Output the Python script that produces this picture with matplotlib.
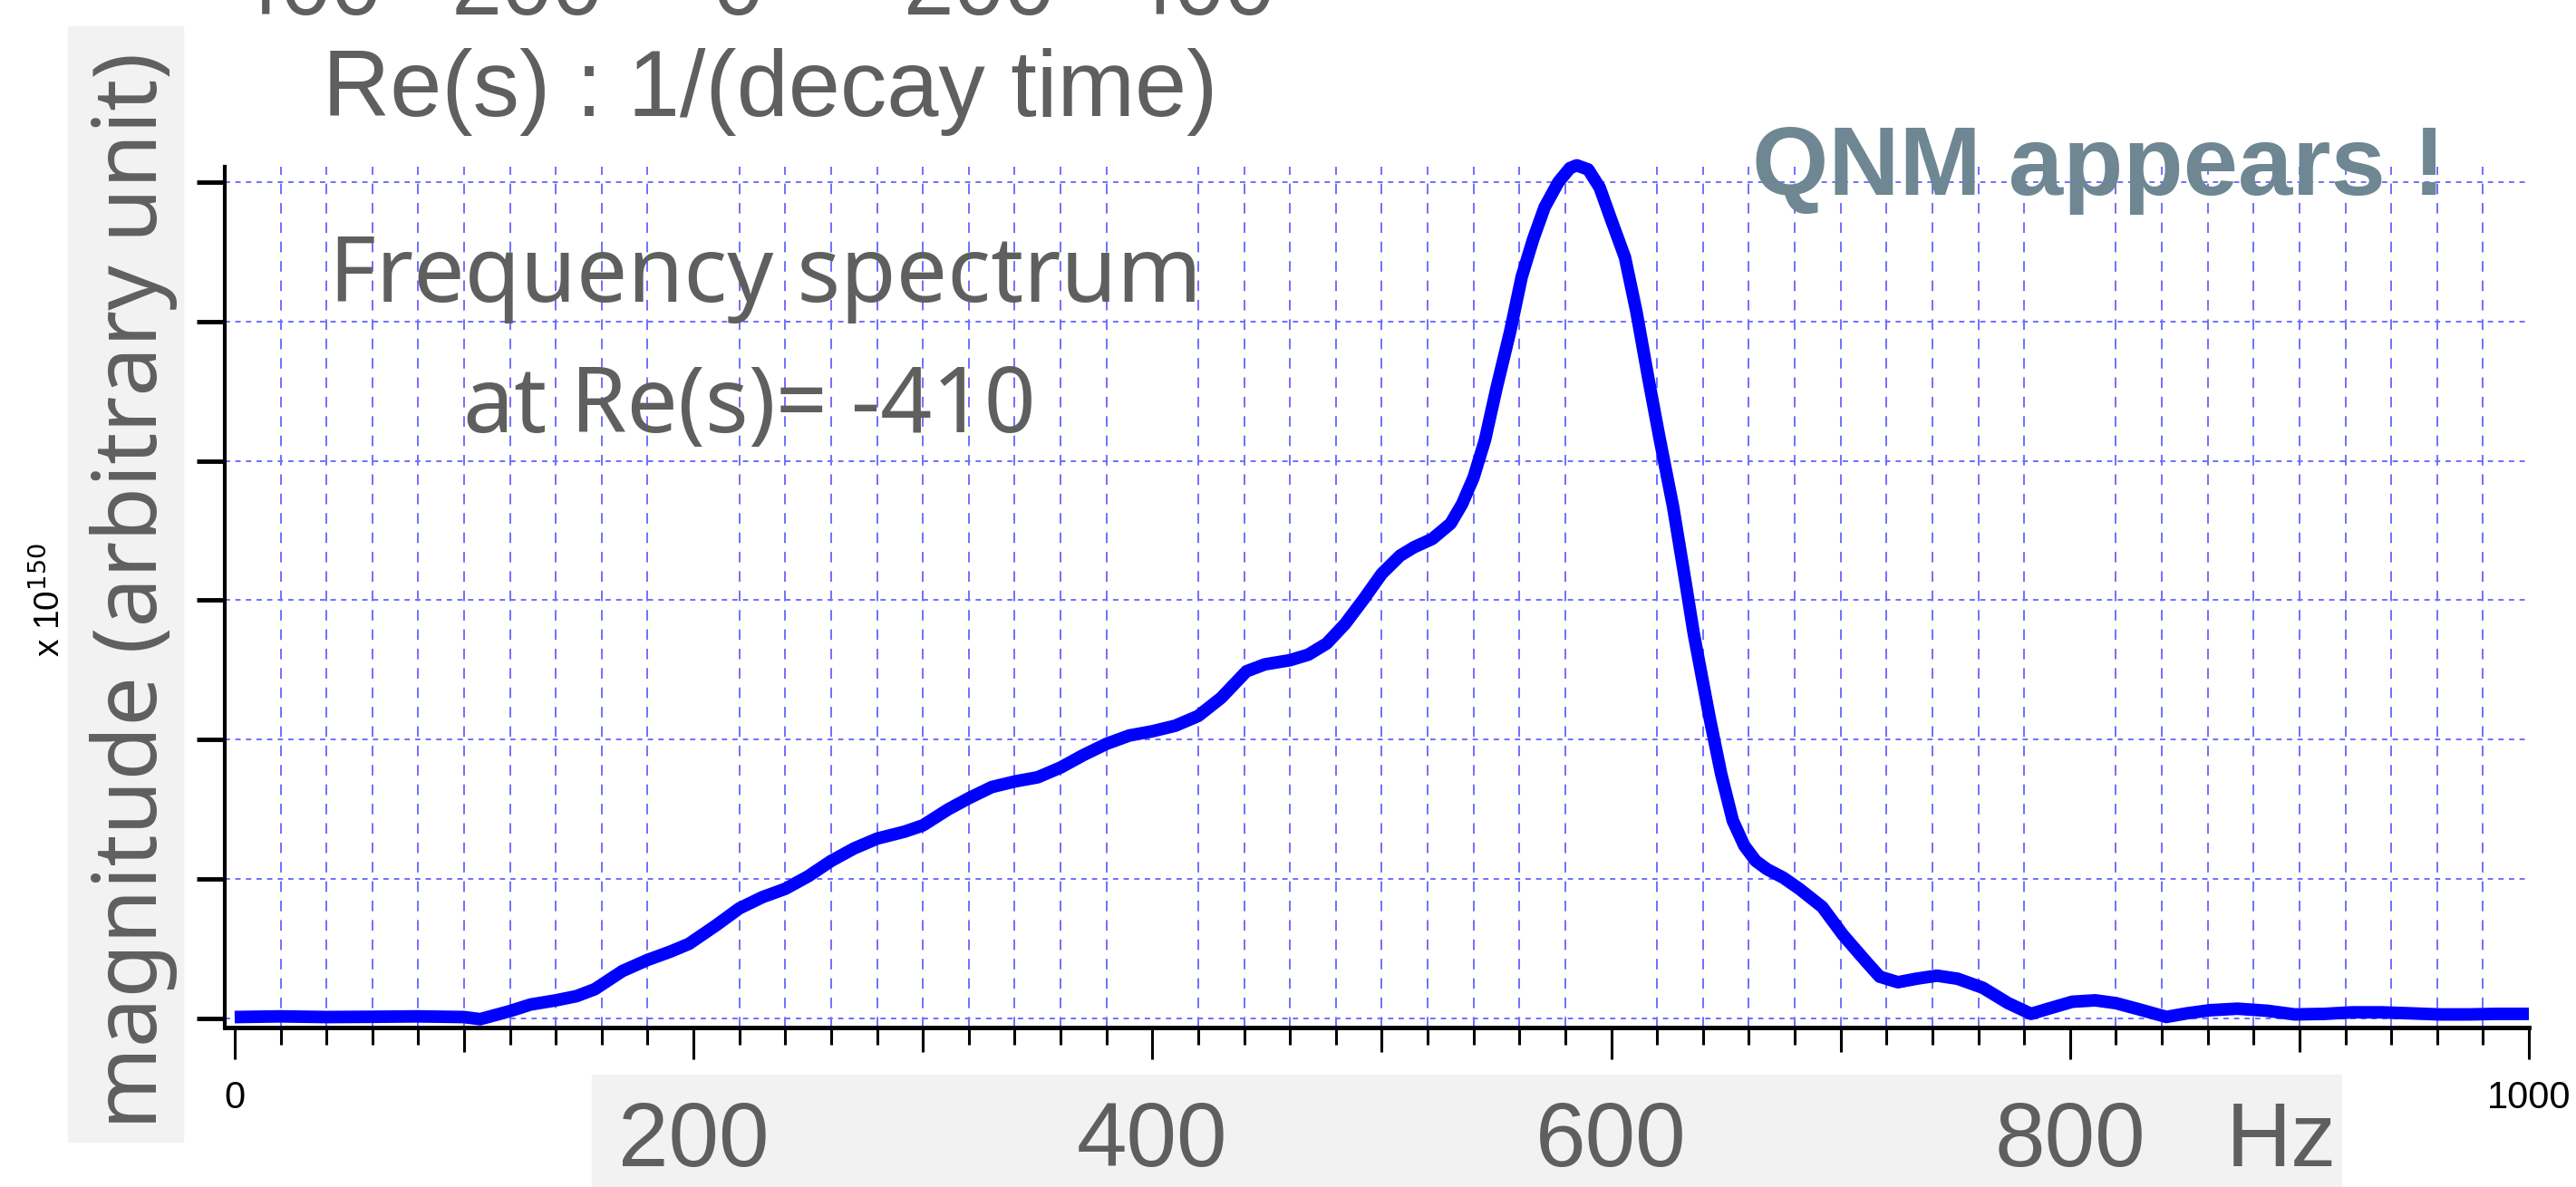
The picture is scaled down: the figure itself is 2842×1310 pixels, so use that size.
import matplotlib
matplotlib.use("Agg")
import matplotlib.pyplot as plt
import matplotlib.transforms as mtransforms
from matplotlib.patches import Rectangle

# frequency spectrum (y in units of one tick step, x 10^150 scale)
freq = [0, 20, 40, 60, 80, 100, 107, 120, 129, 140, 149, 157, 169, 180, 190, 198,
        210, 220, 230, 240, 250, 260, 270, 280, 292, 300, 311, 320, 330, 340, 350,
        360, 370, 380, 390, 400, 410, 420, 430, 441, 449, 460, 468, 476, 484, 492,
        500, 508, 514, 522, 530, 535, 540, 545, 550, 556, 561, 566, 571, 577, 582,
        585, 590, 595, 600, 606, 611, 616, 621, 627, 632, 636, 643, 648, 653, 658,
        663, 668, 675, 682, 692, 701, 711, 717, 725, 733, 742, 751, 762, 773, 783,
        792, 801, 811, 820, 830, 842, 851, 861, 873, 886, 898, 911, 923, 936, 948,
        961, 974, 986, 1000]
mag = [0.01, 0.015, 0.01, 0.012, 0.015, 0.01, -0.005, 0.053, 0.10, 0.13, 0.16, 0.21,
       0.34, 0.42, 0.48, 0.535, 0.67, 0.79, 0.87, 0.93, 1.02, 1.13, 1.22, 1.29, 1.34,
       1.385, 1.50, 1.58, 1.66, 1.70, 1.73, 1.80, 1.89, 1.97, 2.03, 2.06, 2.10, 2.17,
       2.30, 2.49, 2.54, 2.57, 2.61, 2.69, 2.83, 3.005, 3.19, 3.32, 3.38, 3.44, 3.55,
       3.69, 3.88, 4.15, 4.52, 4.93, 5.32, 5.59, 5.82, 6.0, 6.10, 6.12, 6.09, 5.96,
       5.73, 5.46, 5.07, 4.61, 4.17, 3.67, 3.17, 2.76, 2.15, 1.75, 1.42, 1.24, 1.13,
       1.07, 1.01, 0.93, 0.80, 0.60, 0.41, 0.30, 0.26, 0.285, 0.307, 0.285, 0.22,
       0.11, 0.033, 0.077, 0.12, 0.13, 0.11, 0.066, 0.011, 0.037, 0.059, 0.07, 0.055,
       0.029, 0.033, 0.044, 0.044, 0.037, 0.029, 0.029, 0.033, 0.033]

y_ticks = [0, 1, 2, 3, 4, 5, 6]
x_major = [0, 200, 400, 600, 800, 1000]
x_major_labels = ['0', '', '', '', '', '1000']
x_mid = [100, 300, 500, 700, 900]
x_minor = list(range(0, 1001, 20))
big_labels = ['200', '400', '600', '800']
top_labels = ['-400', '-200', '0', '200', '400']

gray = '#5f5f5f'
gridc = '#6f6fff'
W, H = 2842, 1310

fig = plt.figure(figsize=(W / 100, H / 100), dpi=100)
ax = fig.add_axes([248 / W, 1 - 1134 / H, (2790 - 248) / W, (1134 - 184) / H])

ax.plot(freq, mag, color='#0000ff', lw=10, solid_joinstyle='round',
        solid_capstyle='butt', clip_on=False, zorder=5)
ax.set_xlim(-4.3, 1000)
ax.set_ylim(-0.065, 6.11)

for s in ['top', 'right']:
    ax.spines[s].set_visible(False)
ax.spines['left'].set_linewidth(3)
ax.spines['bottom'].set_linewidth(3.5)

ax.set_yticks(y_ticks)
ax.set_yticklabels([])
ax.tick_params(axis='y', length=22, width=3.5, direction='out')

ax.set_xticks(x_major)
ax.set_xticklabels(x_major_labels, fontsize=30,
                   family=['Liberation Sans Narrow', 'Liberation Sans'])
ax.set_xticks(x_minor, minor=True)
ax.tick_params(axis='x', which='major', length=25, width=2.2, pad=17)
ax.tick_params(axis='x', which='minor', length=14, width=2.2)

sec = ax.secondary_xaxis('bottom')
sec.set_xticks(x_mid)
sec.set_xticklabels([])
sec.tick_params(length=19.5, width=2.2)
sec.spines['bottom'].set_visible(False)

ax.grid(axis='y', which='major', color=gridc, lw=1.4, ls=(0, (3, 3)))
ax.grid(axis='x', which='minor', color=gridc, lw=1.4, ls=(0, (6, 5)))
ax.set_axisbelow(True)

# gray boxes behind the big labels
fig.add_artist(Rectangle((75 / W, 1 - 1260 / H), 127 / W, 1231 / H,
                         transform=fig.transFigure, color='#f2f2f2', zorder=0))
fig.add_artist(Rectangle((653 / W, 0), (2583 - 653) / W, (1310 - 1186) / H,
                         transform=fig.transFigure, color='#f2f2f2', zorder=0))

fig.text(148 / W, 1 - 652 / H, 'magnitude (arbitrary unit)', rotation=90,
         ha='center', va='center', fontsize=70, color=gray, family='Noto Sans')
fig.text(54 / W, 1 - 662 / H, r'x 10$^{150}$', rotation=90, ha='center', va='center',
         fontsize=28, color='black', family=['Liberation Sans Narrow', 'Liberation Sans'])

tr = mtransforms.blended_transform_factory(ax.transData, fig.transFigure)
for v in big_labels:
    ax.text(int(v), 1 - 1287 / H, v, transform=tr, ha='center', va='baseline',
            fontsize=72, color=gray, family='Liberation Sans')
fig.text(2456 / W, 1 - 1287 / H, 'Hz', ha='left', va='baseline', fontsize=72,
         color=gray, family='Liberation Sans')

# labels of the panel above, cut off at the top edge
for x, t in zip([421, 665, 842, 1163, 1407], top_labels):
    fig.text(x / W, 1 - 16 / H, t, ha='right', va='baseline', fontsize=72,
             color=gray, family='Liberation Sans')
fig.text(356 / W, 1 - 128 / H, 'Re(s) : 1/(decay time)', ha='left', va='baseline',
         fontsize=74, color=gray, family='Liberation Sans')

fig.text(363 / W, 1 - 333 / H, 'Frequency spectrum', ha='left', va='baseline',
         fontsize=72, color=gray, family='Noto Sans')
fig.text(511 / W, 1 - 477 / H, 'at Re(s)= -410', ha='left', va='baseline',
         fontsize=72, color=gray, family='Noto Sans')
fig.text(1933 / W, 1 - 215 / H, 'QNM appears !', ha='left', va='baseline',
         fontsize=78, color='#6e8792', weight='bold', family='Liberation Sans')

fig.savefig('out.png', dpi=100)
